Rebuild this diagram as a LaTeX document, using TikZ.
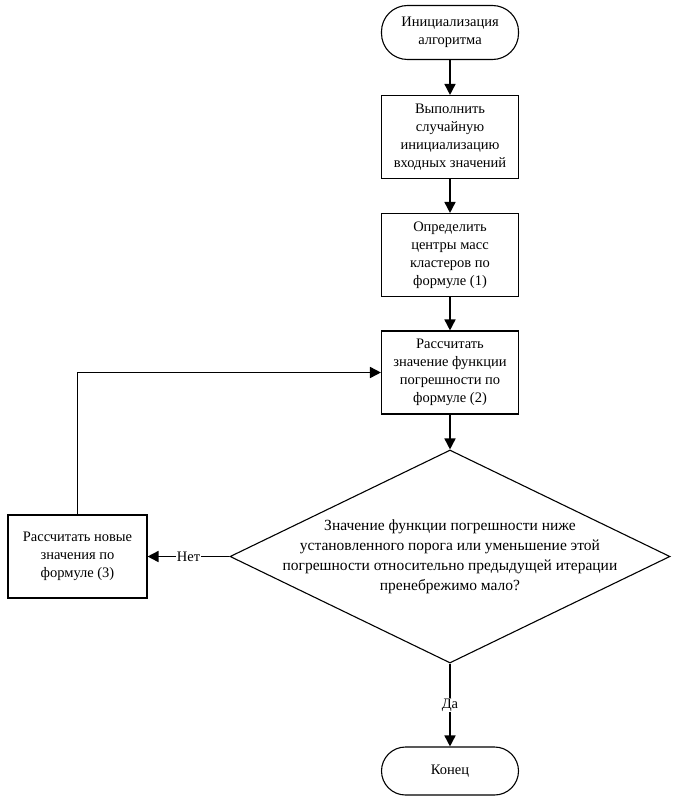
\documentclass[tikz,border=0pt]{standalone}
\usepackage{fontspec}
\setmainfont{Liberation Serif}
\usetikzlibrary{shapes.geometric,arrows.meta}
\tikzset{
  base/.style={draw, line width=1.1pt, align=center, font=\fontsize{14.5}{18}\selectfont, inner sep=2pt},
  term/.style={base, rectangle, rounded corners=26pt, minimum width=137pt, minimum height=54pt},
  proc/.style={base, rectangle, minimum width=137pt, minimum height=83pt},
  dec/.style={draw, line width=1.1pt, diamond, minimum width=440pt, minimum height=213pt, inner sep=0pt},
  txt/.style={align=center, font=\fontsize{15.5}{20}\selectfont},
  conn/.style={line width=1.6pt, -{Triangle[length=11pt,width=11pt]}},
  lbl/.style={fill=white, font=\fontsize{14.5}{18}\selectfont, inner sep=1pt}
}
\begin{document}
\begin{tikzpicture}[x=1pt,y=-1pt]
\useasboundingbox (0,0) rectangle (674,808);
\node[term] (start) at (450,32.5) {Инициализация\\алгоритма};
\node[proc] (b1) at (450,137) {Выполнить\\случайную\\инициализацию\\входных значений};
\node[proc] (b2) at (450,255) {Определить\\центры масс\\кластеров по\\формуле (1)};
\node[proc] (b3) at (450,372.5) {Рассчитать\\значение функции\\погрешности по\\формуле (2)};
\node[dec] (d) at (450,556.5) {};
\node[txt] (dt) at (d.center) {Значение функции погрешности ниже\\установленного порога или уменьшение этой\\погрешности относительно предыдущей итерации\\пренебрежимо мало?};
\node[proc, minimum width=139pt] (left) at (77.5,556.5) {Рассчитать новые\\значения по\\формуле (3)};
\node[term, rounded corners=24pt, minimum height=48pt] (end) at (450,771) {Конец};
\draw[conn] (start) -- (b1);
\draw[conn] (b1) -- (b2);
\draw[conn] (b2) -- (b3);
\draw[conn] (b3) -- (d.north);
\draw[conn] (d.west) -- node[lbl] {Нет} (left.east);
\draw[conn] (left.north) |- (b3.west);
\draw[conn] (d.south) -- node[lbl] {Да} (end.north);
\end{tikzpicture}
\end{document}
